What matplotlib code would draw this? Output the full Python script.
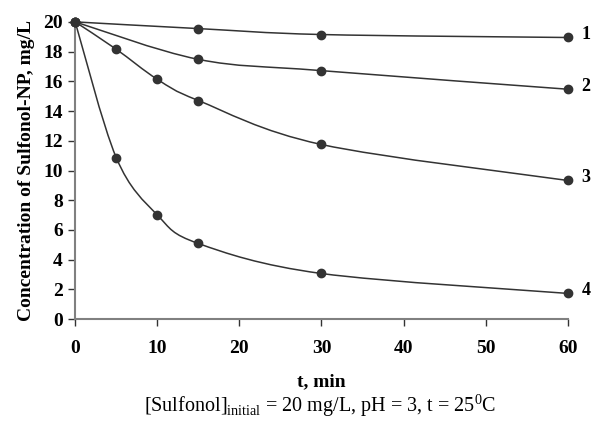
import matplotlib
matplotlib.use('Agg')
import matplotlib.pyplot as plt
from matplotlib.path import Path
from matplotlib.patches import PathPatch

plt.rcParams['font.family'] = ['Liberation Serif', 'DejaVu Serif']
plt.rcParams['mathtext.fontset'] = 'custom'
plt.rcParams['mathtext.rm'] = 'Liberation Serif'

# data
t1 = [0, 15, 30, 60]
c1 = [20, 19.55, 19.15, 18.95]
t2 = [0, 15, 30, 60]
c2 = [20, 17.48, 16.72, 15.47]
t3 = [0, 5, 10, 15, 30, 60]
c3 = [20, 18.16, 16.14, 14.71, 11.75, 9.33]
t4 = [0, 5, 10, 15, 30, 60]
c4 = [20, 10.87, 7.01, 5.09, 3.07, 1.73]
series = [(t1, c1, '1'), (t2, c2, '2'), (t3, c3, '3'), (t4, c4, '4')]


def smooth_path(ax, xs, ys):
    # Excel-like smoothed line: Catmull-Rom segments as cubic Bezier in display space
    pts = ax.transData.transform(list(zip(xs, ys)))
    n = len(pts)
    verts = [pts[0]]
    codes = [Path.MOVETO]
    for i in range(n - 1):
        p0 = pts[i - 1] if i > 0 else pts[i]
        p1 = pts[i]
        p2 = pts[i + 1]
        p3 = pts[i + 2] if i + 2 < n else pts[i + 1]
        verts += [p1 + (p2 - p0) / 6.0, p2 - (p3 - p1) / 6.0, p2]
        codes += [Path.CURVE4] * 3
    return Path(verts, codes)


fig = plt.figure(figsize=(5.92, 4.21), dpi=100)
ax = fig.add_axes([0.127, 0.242, 0.832, 0.706])
ax.set_xlim(0, 60)
ax.set_ylim(0, 20)
fig.canvas.draw()

for t, c, lab in series:
    p = smooth_path(ax, t, c)
    ax.add_patch(PathPatch(p, transform=None, facecolor='none',
                           edgecolor='#333333', lw=1.1, clip_on=False))
    ax.plot(t, c, 'o', color='#333333', ms=6, clip_on=False, zorder=5)
    ax.annotate(lab, (t[-1], c[-1]), xytext=(10, 2), textcoords='offset points',
                fontsize=13, fontweight='bold', va='center', ha='left',
                annotation_clip=False)

ax.set_xticks([0, 10, 20, 30, 40, 50, 60])
ax.set_yticks(range(0, 21, 2))
for s in ['top', 'right']:
    ax.spines[s].set_visible(False)
for s in ['left', 'bottom']:
    ax.spines[s].set_color('#808080')
    ax.spines[s].set_linewidth(1.5)
ax.tick_params(direction='out', length=5, width=1, color='#333333',
               labelsize=14)
ax.tick_params(axis='x', pad=10)
ax.tick_params(axis='y', pad=4)
for lbl in ax.get_xticklabels() + ax.get_yticklabels():
    lbl.set_fontweight('bold')

ax.set_xlabel('t, min', fontsize=14, fontweight='bold', labelpad=12)
ax.set_ylabel('Concentration of Sulfonol-NP, mg/L', fontsize=14,
              fontweight='bold', labelpad=6)
fig.text(0.54, 0.022, r'[Sulfonol]$_{\mathrm{initial}}$ = 20 mg/L, pH = 3, t = 25$^{\mathrm{0}}$C',
         ha='center', fontsize=14.5)

fig.savefig('out.png', dpi=100)
